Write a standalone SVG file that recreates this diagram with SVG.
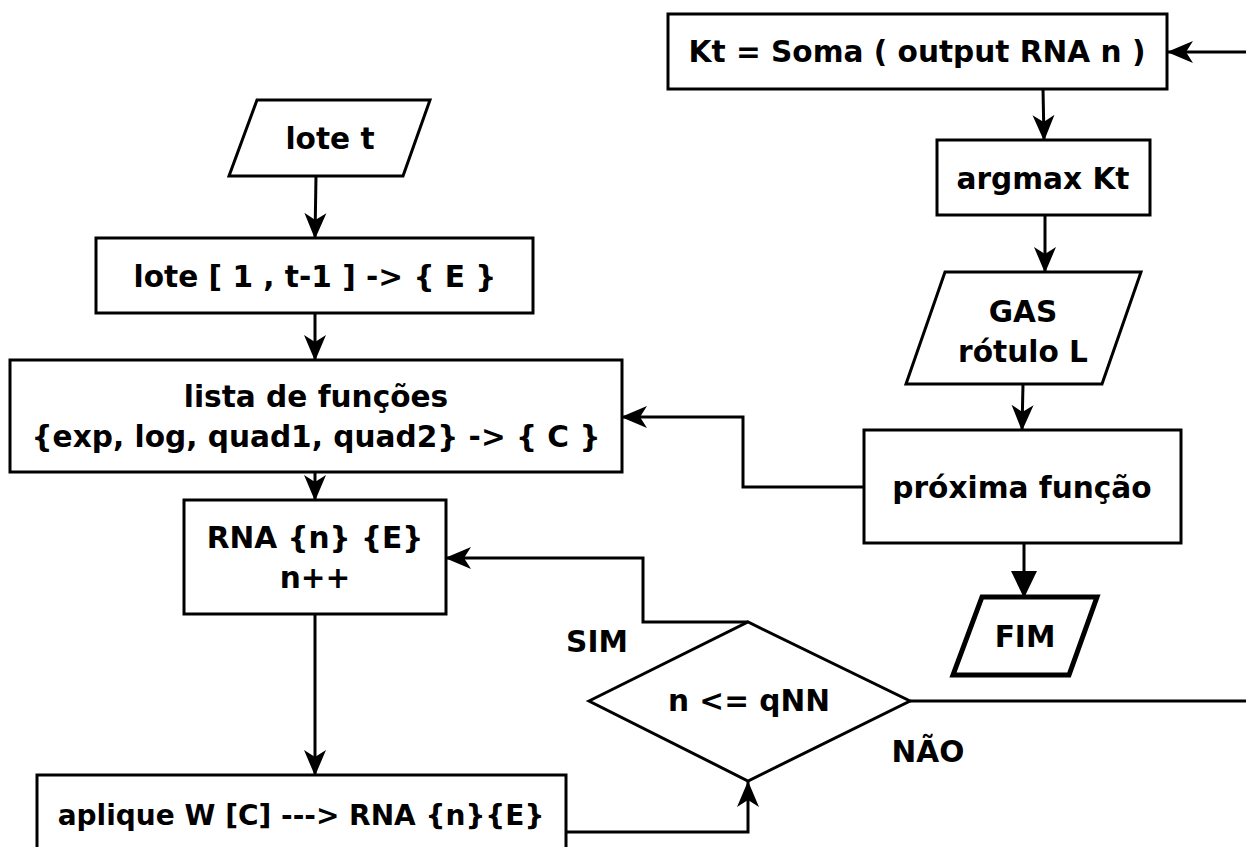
<svg xmlns="http://www.w3.org/2000/svg" width="1246" height="847" viewBox="0 0 1246 847">
  <style>
    .box { fill: #ffffff; stroke: #000000; stroke-width: 3; }
    .thick { stroke-width: 5; }
    .lbl { font-family: "DejaVu Sans", "Liberation Sans", sans-serif; font-weight: bold; font-size: 29.6px; fill: #000000; text-anchor: middle; dominant-baseline: central; }
    .edge { fill: none; stroke: #000000; stroke-width: 3; }
  </style>
  <defs>
    <marker id="arrow" markerUnits="userSpaceOnUse" markerWidth="28" markerHeight="24" refX="25" refY="12" orient="auto">
      <path d="M0,1 L26,12 L0,23 L7,12 Z" fill="#000000"/>
    </marker>
    <marker id="arrowBig" markerUnits="userSpaceOnUse" markerWidth="28" markerHeight="28" refX="26" refY="13" orient="auto">
      <path d="M0,0 L27,13 L0,26 Z" fill="#000000"/>
    </marker>
  </defs>

  <rect width="1246" height="847" fill="#ffffff"/>

  <!-- connectors -->
  <g id="connectors">
    <line class="edge" x1="316" y1="176" x2="315" y2="238" marker-end="url(#arrow)"/>
    <line class="edge" x1="315" y1="313" x2="315" y2="360" marker-end="url(#arrow)"/>
    <line class="edge" x1="315" y1="472" x2="315" y2="500" marker-end="url(#arrow)"/>
    <line class="edge" x1="315" y1="614" x2="315" y2="775" marker-end="url(#arrow)"/>
    <polyline class="edge" points="566,832 748,832 748,782" marker-end="url(#arrow)"/>
    <polyline class="edge" points="748,622 643,622 643,558 446,558" marker-end="url(#arrow)"/>
    <line class="edge" x1="910" y1="701" x2="1246" y2="701"/>
    <line class="edge" x1="1246" y1="52" x2="1168" y2="52" marker-end="url(#arrow)"/>
    <line class="edge" x1="1043" y1="89" x2="1044" y2="140" marker-end="url(#arrow)"/>
    <line class="edge" x1="1045" y1="215" x2="1045" y2="272" marker-end="url(#arrow)"/>
    <line class="edge" x1="1023" y1="384" x2="1022" y2="430" marker-end="url(#arrow)"/>
    <polyline class="edge" points="864,487 743,487 743,417 622,417" marker-end="url(#arrow)"/>
    <line class="edge" x1="1024" y1="543" x2="1024" y2="597" stroke-width="5" marker-end="url(#arrowBig)"/>
  </g>

  <g id="lote-t">
    <polygon class="box" points="257,100 430,100 403,176 229,176"/>
    <text class="lbl" x="330" y="139">lote t</text>
  </g>

  <g id="lote-e">
    <rect class="box" x="96" y="238" width="437" height="75"/>
    <text class="lbl" x="315" y="277">lote [ 1 , t-1 ] -&gt; { E }</text>
  </g>

  <g id="lista-funcoes">
    <rect class="box" x="10" y="360" width="612" height="112"/>
    <text class="lbl" x="316" y="397">lista de funções</text>
    <text class="lbl" x="316" y="437">{exp, log, quad1, quad2} -&gt; { C }</text>
  </g>

  <g id="rna">
    <rect class="box" x="184" y="500" width="262" height="114"/>
    <text class="lbl" x="315" y="538">RNA {n} {E}</text>
    <text class="lbl" x="315" y="578">n++</text>
  </g>

  <g id="aplique">
    <rect class="box" x="37" y="775" width="529" height="80"/>
    <text class="lbl" x="301" y="815" style="font-size:28px">aplique W [C] ---&gt; RNA {n}{E}</text>
  </g>

  <g id="decisao">
    <polygon class="box" points="589,701 748,622 910,701 748,781"/>
    <text class="lbl" x="749" y="701">n &lt;= qNN</text>
  </g>

  <g id="rotulos">
    <text class="lbl" x="597" y="642">SIM</text>
    <text class="lbl" x="928" y="752">NÃO</text>
  </g>

  <g id="kt-soma">
    <rect class="box" x="668" y="14" width="499" height="75"/>
    <text class="lbl" x="917" y="52">Kt = Soma ( output RNA n )</text>
  </g>

  <g id="argmax">
    <rect class="box" x="937" y="140" width="213" height="75"/>
    <text class="lbl" x="1043" y="179">argmax Kt</text>
  </g>

  <g id="gas">
    <polygon class="box" points="945,272 1141,272 1102,384 906,384"/>
    <text class="lbl" x="1023" y="312">GAS</text>
    <text class="lbl" x="1023" y="352">rótulo L</text>
  </g>

  <g id="proxima-funcao">
    <rect class="box" x="864" y="430" width="317" height="113"/>
    <text class="lbl" x="1022" y="488">próxima função</text>
  </g>

  <g id="fim">
    <polygon class="box thick" points="982,597 1097,597 1069,675 953,675"/>
    <text class="lbl" x="1025" y="637">FIM</text>
  </g>
</svg>
